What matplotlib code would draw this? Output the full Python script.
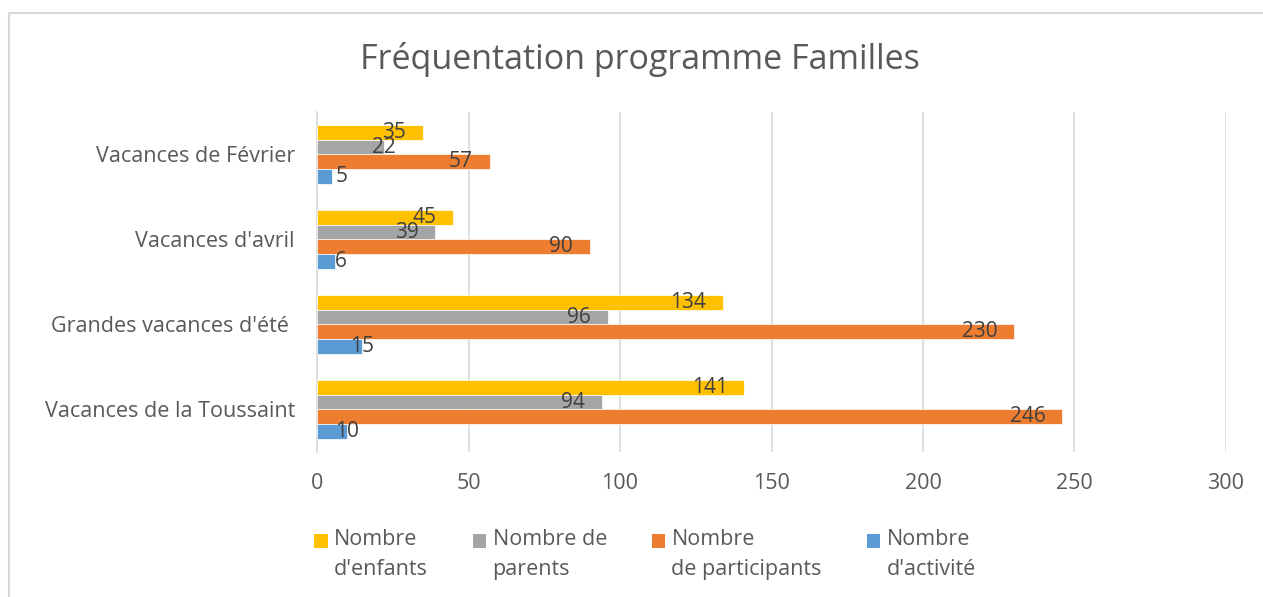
import numpy as np
import matplotlib.pyplot as plt
from matplotlib.patches import Rectangle, Patch
from matplotlib.legend_handler import HandlerPatch

plt.rcParams['font.family'] = ['Open Sans', 'DejaVu Sans']

categories = ["Vacances de la Toussaint", "Grandes vacances d'été ",
              "Vacances d'avril", "Vacances de Février"]
enfants = [141, 134, 45, 35]
parents = [94, 96, 39, 22]
participants = [246, 230, 90, 57]
activite = [10, 15, 6, 5]
series_labels = ["Nombre\nd'enfants", "Nombre de\nparents",
                 "Nombre\nde participants", "Nombre\nd'activité"]
colors = ["#FFC000", "#A5A5A5", "#ED7D31", "#5B9BD5"]
xticks = [0, 50, 100, 150, 200, 250, 300]

txt = "#595959"
fig = plt.figure(figsize=(12.63, 5.97), dpi=100)
ax = fig.add_axes([0.251, 0.2429, 0.7197, 0.5695])

# outer chart border
fig.patches.append(Rectangle((9 / 1263, -0.1), 1.2, 1 - 13 / 597 + 0.1,
                             transform=fig.transFigure, fill=False,
                             edgecolor="#D9D9D9", linewidth=1.5))

y = np.arange(len(categories))
h = 0.175
all_series = [enfants, parents, participants, activite]
offsets = [1.5 * h, 0.5 * h, -0.5 * h, -1.5 * h]
for vals, off, col in zip(all_series, offsets, colors):
    bars = ax.barh(y + off, vals, height=h, color=col, edgecolor="white",
                   linewidth=0.5, zorder=3)
    for b, v in zip(bars, vals):
        yc = b.get_y() + b.get_height() / 2
        if v >= 30:
            ax.annotate(str(v), (v, yc), xytext=(-12, 0), textcoords="offset points",
                        ha="right", va="center", fontsize=15, color="#404040", zorder=4)
        else:
            ax.annotate(str(v), (max(v, 8), yc), ha="center", va="center",
                        fontsize=15, color="#404040", zorder=4)

ax.set_xlim(0, 300)
ax.set_ylim(-0.5, 3.5)
ax.set_xticks(xticks)
ax.set_yticks(y)
ax.set_yticklabels(categories)
ax.tick_params(axis="both", length=0, labelsize=15.5, colors=txt)
ax.tick_params(axis="x", pad=15)
ax.tick_params(axis="y", pad=16)
ax.grid(axis="x", color="#D9D9D9", linewidth=1.2, zorder=0)
for s in ["top", "right", "bottom"]:
    ax.spines[s].set_visible(False)
ax.spines["left"].set_color("#D9D9D9")
ax.spines["left"].set_linewidth(1.2)

fig.text(0.507, 0.9, "Fréquentation programme Familles", ha="center", va="center",
         fontsize=24.5, color=txt)


def top_square(legend, orig_handle, xdescent, ydescent, width, height, fontsize):
    s = 0.62 * fontsize
    return Rectangle((width - s - xdescent, height - s - ydescent + 0.05 * fontsize), s, s)


handles = [Patch(facecolor=c) for c in colors]
leg = fig.legend(handles, series_labels, loc="center", bbox_to_anchor=(0.51, 0.071),
                 ncol=4, frameon=False, fontsize=15.5, labelcolor=txt,
                 handlelength=0.7, handleheight=2.6, handletextpad=0.3,
                 columnspacing=2.0, alignment="left",
                 handler_map={Patch: HandlerPatch(patch_func=top_square)})
for t in leg.get_texts():
    t.set_linespacing(1.55)

fig.savefig("out.png", dpi=100)
